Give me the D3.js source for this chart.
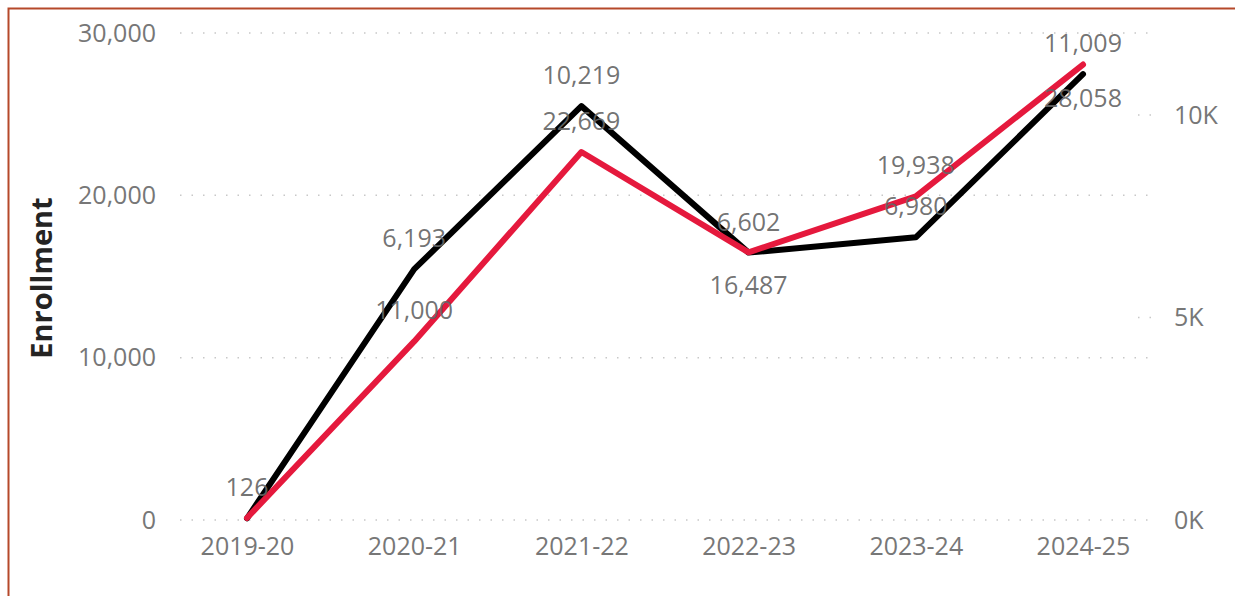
<!DOCTYPE html>
<html>
<head>
<meta charset="utf-8">
<script src="https://cdn.jsdelivr.net/npm/d3@7"></script>
<style>
    body { margin: 0; background: #fff; }
    text { font-family: "Open Sans", "Noto Sans", sans-serif; }
</style>
</head>
<body>
<svg id="chart" width="1235" height="596"></svg>
<script>
// Data.
const years = ['2019-20', '2020-21', '2021-22', '2022-23', '2023-24', '2024-25'];
const enrollment = [126, 11000, 22669, 16487, 19938, 28058];   // red, left axis
const secondary = [40, 6193, 10219, 6602, 6980, 11009];        // black, right axis
const leftTicks = [0, 10000, 20000, 30000];
const rightTicks = [0, 5000, 10000];

const svg = d3.select('#chart');
const W = 1235, H = 596;

// Frame (only top and left edges show).
svg.append('path')
    .attr('d', `M8.5,${H} V8.5 H${W}`)
    .attr('fill', 'none')
    .attr('stroke', '#b5482a')
    .attr('stroke-width', 2);

// Scales.
const x = d3.scalePoint().domain(years).range([247, 1083]);
const yL = d3.scaleLinear().domain([0, 30000]).range([520, 33]);
const yR = d3.scaleLinear().domain([0, 10000 * 487 / 405]).range([520, 33]);

// Gridlines.
const grid = (data, x1, y) => svg.append('g')
    .selectAll('line')
    .data(data)
    .join('line')
    .attr('x1', x1).attr('x2', 1152)
    .attr('y1', d => y(d)).attr('y2', d => y(d))
    .attr('stroke', '#c8c8c8')
    .attr('stroke-width', 1.5)
    .attr('stroke-dasharray', '1.5,10');
grid(leftTicks, 180, yL);
grid(rightTicks.filter(d => d > 0), 1138, yR);

// Axes.
const axisText = sel => sel.selectAll('text')
    .attr('fill', '#777')
    .style('font-size', '25px')
    .style('font-family', '"Open Sans", "Noto Sans", sans-serif');

const gl = svg.append('g')
    .attr('transform', 'translate(156,0)')
    .call(d3.axisLeft(yL).tickValues(leftTicks).tickFormat(d3.format(',')).tickSize(0).tickPadding(0));
gl.select('.domain').remove();
axisText(gl);

const gr = svg.append('g')
    .attr('transform', 'translate(1174,0)')
    .call(d3.axisRight(yR).tickValues(rightTicks).tickFormat(d => `${d / 1000}K`).tickSize(0).tickPadding(0));
gr.select('.domain').remove();
axisText(gr);

const gx = svg.append('g')
    .attr('transform', 'translate(0,537)')
    .call(d3.axisBottom(x).tickSize(0).tickPadding(0));
gx.select('.domain').remove();
axisText(gx);

// Axis title.
svg.append('text')
    .attr('transform', 'translate(40,278) rotate(-90)')
    .attr('text-anchor', 'middle')
    .attr('dominant-baseline', 'central')
    .attr('fill', '#252423')
    .style('font-size', '29px')
    .style('font-weight', 700)
    .text('Enrollment');

// Lines.
const series = [
    {values: secondary, y: yR, color: '#000000', place: [0, -1, -1, -1, -1, -1]},
    {values: enrollment, y: yL, color: '#e5193d', place: [-1, -1, -1, 1, -1, 1]}
];

series.forEach(s => {
    svg.append('path')
        .datum(s.values)
        .attr('fill', 'none')
        .attr('stroke', s.color)
        .attr('stroke-width', 6)
        .attr('stroke-linejoin', 'round')
        .attr('stroke-linecap', 'round')
        .attr('d', d3.line()
            .x((d, i) => x(years[i]))
            .y(d => s.y(d)));
});

// Data labels, drawn after both lines.
series.forEach(s => {
    svg.append('g')
        .selectAll('text')
        .data(s.values.map((v, i) => ({v, i})).filter(d => s.place[d.i] !== 0))
        .join('text')
        .attr('x', d => x(years[d.i]))
        .attr('y', d => s.y(d.v) + s.place[d.i] * 32)
        .attr('text-anchor', 'middle')
        .attr('dominant-baseline', 'central')
        .attr('fill', '#666')
        .attr('fill-opacity', 0.92)
        .style('font-size', '25px')
        .text(d => d3.format(',')(d.v));
});
</script>
</body>
</html>
